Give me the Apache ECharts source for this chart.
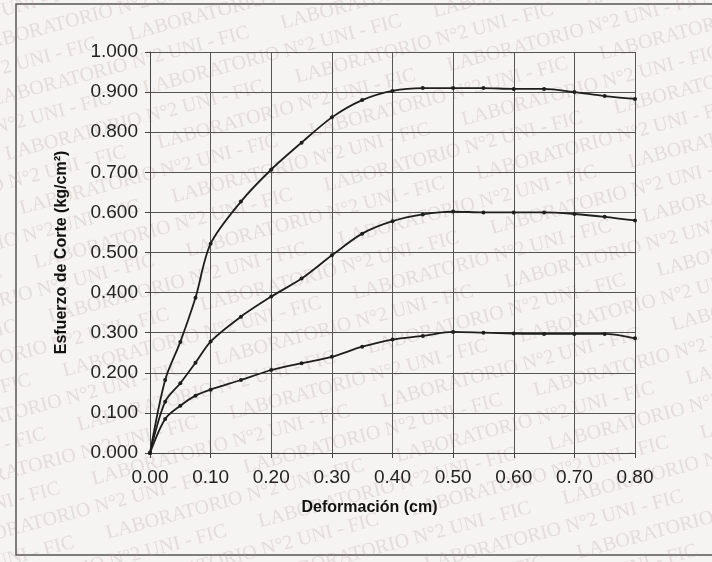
<!DOCTYPE html>
<html>
<head>
<meta charset="utf-8">
<script src="https://cdn.jsdelivr.net/npm/echarts@6/dist/echarts.min.js"></script>
<style>
html,body{margin:0;padding:0;background:#f5f4f2;}
#c{width:712px;height:562px;}
</style>
</head>
<body>
<div id="c"></div>
<script>
// Deformación (cm)
var deformacion = [0, 0.025, 0.05, 0.075, 0.10, 0.15, 0.20, 0.25, 0.30, 0.35, 0.40, 0.45, 0.50, 0.55, 0.60, 0.65, 0.70, 0.75, 0.80];
// Esfuerzo de corte (kg/cm2)
var esfuerzoAlto  = [0, 0.182, 0.277, 0.387, 0.522, 0.627, 0.707, 0.774, 0.837, 0.880, 0.903, 0.910, 0.910, 0.910, 0.908, 0.908, 0.900, 0.890, 0.883];
var esfuerzoMedio = [0, 0.128, 0.174, 0.225, 0.278, 0.340, 0.390, 0.435, 0.493, 0.547, 0.578, 0.595, 0.602, 0.600, 0.600, 0.600, 0.596, 0.589, 0.580];
var esfuerzoBajo  = [0, 0.085, 0.118, 0.143, 0.158, 0.182, 0.207, 0.224, 0.240, 0.265, 0.283, 0.292, 0.302, 0.300, 0.298, 0.297, 0.297, 0.297, 0.286];
var watermarkText = 'LABORATORIO N°2 UNI - FIC';

function pairs(ys){ return deformacion.map(function(x,i){ return [x, ys[i]]; }); }

var font = "'Liberation Sans', Arial, sans-serif";

// watermark: a rotated group holding horizontal rows of text
var wmChildren = [];
for (var r = 0; r < 34; r++) {
  for (var c = 0; c < 5; c++) {
    wmChildren.push({
      type: 'text',
      x: c * 300 + (r % 2) * 150,
      y: r * 28,
      silent: true,
      style: {
        text: watermarkText,
        fontFamily: "'Liberation Serif', 'DejaVu Serif', serif",
        fontSize: 20,
        fill: 'rgba(175,150,150,0.25)'
      }
    });
  }
}
var graphics = [
  {
    type: 'group',
    x: -330, y: 60,
    rotation: 0.26,
    silent: true,
    z: -10,
    children: wmChildren
  },
  {
    type: 'rect',
    silent: true,
    z: -5,
    shape: {x: 16, y: 4, width: 720, height: 551},
    style: {fill: 'none', stroke: '#555', lineWidth: 1.5}
  }
];

function lineSeries(name, ys){
  return {
    name: name,
    type: 'line',
    data: pairs(ys),
    smooth: 0.3,
    symbol: 'circle',
    symbolSize: 4,
    lineStyle: {color: '#1e1e1e', width: 1.8},
    itemStyle: {color: '#1e1e1e'},
    z: 3
  };
}

var chart = echarts.init(document.getElementById('c'), null, {renderer: 'canvas'});
chart.setOption({
  backgroundColor: '#f5f4f2',
  animation: false,
  graphic: graphics,
  grid: {left: 150, right: 77, top: 52, bottom: 109},
  xAxis: {
    type: 'value',
    min: 0, max: 0.8, interval: 0.1,
    name: 'Deformación (cm)',
    nameLocation: 'middle',
    nameGap: 47,
    nameTextStyle: {fontFamily: font, fontSize: 16, fontWeight: 'bold', color: '#111', padding: [0, 46, 0, 0]},
    axisLine: {show: true, lineStyle: {color: '#444', width: 1}},
    axisTick: {show: true, length: 5, lineStyle: {color: '#444'}},
    axisLabel: {fontFamily: font, fontSize: 19, color: '#222', margin: 15,
      formatter: function(v){ return v.toFixed(2); }},
    splitLine: {show: true, lineStyle: {color: '#555', width: 1}}
  },
  yAxis: {
    type: 'value',
    min: 0, max: 1.0, interval: 0.1,
    name: 'Esfuerzo de Corte (kg/cm²)',
    nameLocation: 'middle',
    nameGap: 80,
    nameTextStyle: {fontFamily: font, fontSize: 16, fontWeight: 'bold', color: '#111'},
    axisLine: {show: true, lineStyle: {color: '#444', width: 1}},
    axisTick: {show: true, length: 5, lineStyle: {color: '#444'}},
    axisLabel: {fontFamily: font, fontSize: 19, color: '#222', margin: 12,
      formatter: function(v){ return v.toFixed(3); }},
    splitLine: {show: true, lineStyle: {color: '#555', width: 1}}
  },
  series: [
    lineSeries('Alto', esfuerzoAlto),
    lineSeries('Medio', esfuerzoMedio),
    lineSeries('Bajo', esfuerzoBajo)
  ]
});
</script>
</body>
</html>
